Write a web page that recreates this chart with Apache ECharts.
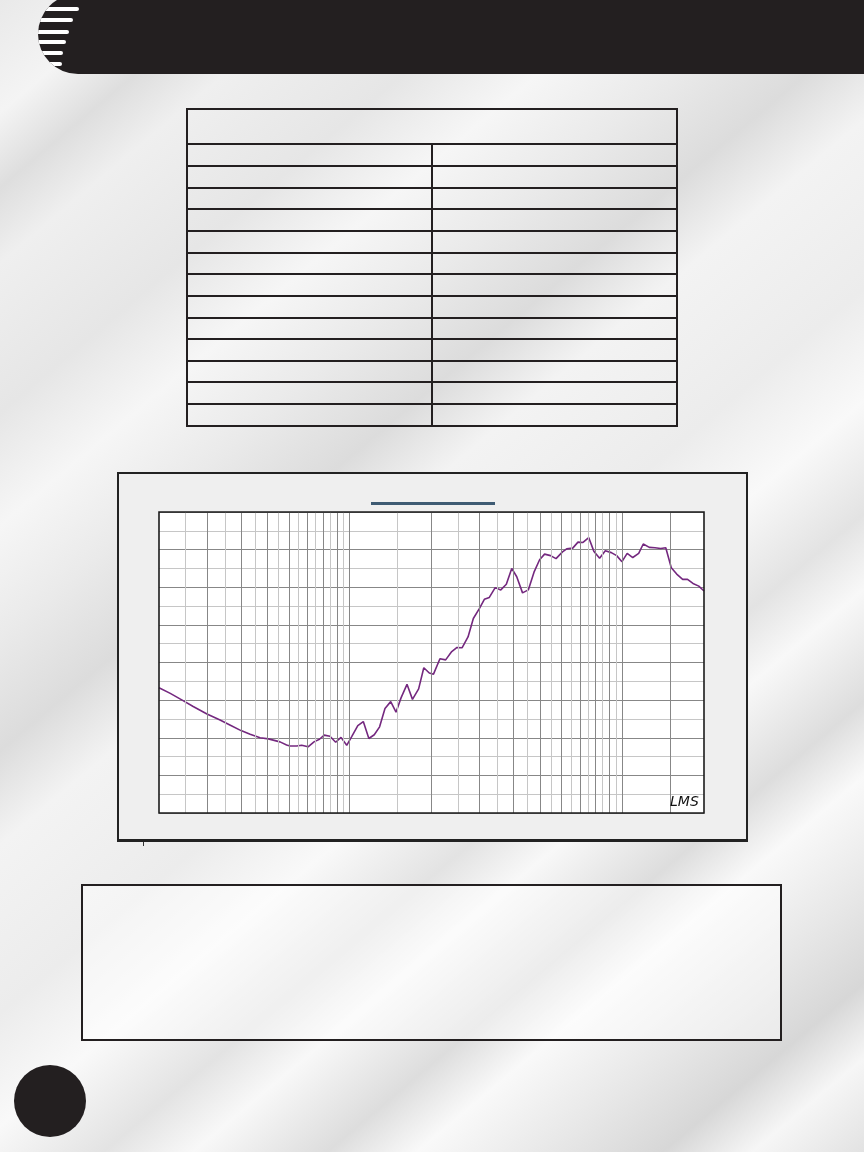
<!DOCTYPE html>
<html>
<head>
<meta charset="utf-8">
<script src="https://cdn.jsdelivr.net/npm/echarts@6/dist/echarts.min.js"></script>
<style>
  html, body { margin: 0; padding: 0; }
  body {
    width: 864px; height: 1152px; overflow: hidden; position: relative;
    background: linear-gradient(140deg,
      #e9e9e9 0%, #f4f4f4 6%, #dedede 10%, #efefef 14%, #e6e6e6 22%, #f6f6f6 28%,
      #eaeaea 34%, #dcdcdc 40%, #f3f3f3 45%, #ececec 54%, #f9f9f9 60%, #e3e3e3 66%,
      #f8f8f8 70%, #dddddd 76%, #f9f9f9 80%, #e7e7e7 86%, #d7d7d7 91%, #f6f6f6 95%, #e2e2e2 100%);
    font-family: "Noto Sans", sans-serif;
  }
  .abs { position: absolute; box-sizing: border-box; }
  #header { left: 38px; top: -6px; width: 900px; height: 80px; background: #231f20;
            border-radius: 40px 0 0 40px; overflow: hidden; }
  .stripe { position: absolute; height: 4px; background: #fff; border-radius: 0 2px 2px 0; }
  #table { left: 186px; top: 108px; width: 492px; height: 319px; border: 2px solid #231f20; }
  .hl { position: absolute; height: 2px; background: #231f20; }
  .vl { position: absolute; width: 2px; background: #231f20; }
  #chartbox { left: 117px; top: 472px; width: 631px; height: 370px; background: #efefef;
              border: 2.5px solid #222; border-bottom-width: 3px; }
  #tick { left: 143px; top: 842px; width: 1px; height: 4px; background: #333; }
  #titleline { left: 371px; top: 502px; width: 124px; height: 2.5px; background: #3e5b73; }
  #textbox { left: 81px; top: 884px; width: 701px; height: 157px; border: 2px solid #231f20;
             background: rgba(255,255,255,0.45); }
  #dot { left: 14px; top: 1065px; width: 72px; height: 72px; border-radius: 50%; background: #231f20; }
  #chart { position: absolute; left: 0; top: 0; width: 864px; height: 1152px; }
</style>
</head>
<body>
<div id="header" class="abs"></div>
<div id="table" class="abs"></div>
<div id="tablelines"></div>
<div id="chartbox" class="abs"></div>
<div id="tick" class="abs"></div>
<div id="titleline" class="abs"></div>
<div id="textbox" class="abs"></div>
<div id="dot" class="abs"></div>
<div id="chart"></div>
<script>
// ---- data (frequency response) ----
const freqs = [20, 22, 24.6, 26.7, 30, 33.5, 36.4, 40, 43.2, 47,
  50.4, 55.6, 58.8, 60.5, 64, 66.8, 70.5, 74.1, 77.6, 80.8,
  84.8, 89, 93.1, 97.7, 101.9, 107.3, 112.4, 117.8, 123.3, 129,
  135, 141.7, 148.2, 154.6, 162.6, 170.3, 179.4, 187.4, 196.3, 203.4,
  214.8, 225.4, 237.3, 248.2, 258.9, 272.3, 284.8, 299.6, 312.6, 326,
  342.6, 359.2, 376.4, 394, 411, 431.6, 453.2, 475.6, 498.6, 520,
  546.7, 572.8, 605, 626.8, 659.6, 689.6, 719.4, 755, 788.2, 827.8,
  868.6, 913.8, 956.2, 1000, 1045, 1095.6, 1151.8, 1197, 1260, 1322,
  1387, 1448, 1517, 1588, 1670, 1740, 1822, 1914, 2000];
const spl = [83.3, 81.8, 79.8, 78.3, 76.3, 74.7, 73.4, 71.9, 70.9, 70.0,
  69.7, 68.9, 68.1, 67.8, 67.8, 68.0, 67.6, 68.9, 69.6, 70.7,
  70.4, 68.8, 70.1, 68.0, 70.3, 73.2, 74.3, 69.8, 70.8, 72.9,
  77.8, 79.6, 76.8, 80.6, 84.2, 80.2, 83.0, 88.6, 87.2, 86.9,
  91.0, 90.7, 92.9, 94.0, 93.9, 96.8, 101.7, 104.3, 106.8, 107.3,
  109.9, 109.3, 110.8, 115.0, 112.8, 108.5, 109.3, 114.0, 117.3, 118.8,
  118.4, 117.6, 119.4, 120.2, 120.4, 122.0, 121.9, 123.2, 119.6, 117.7,
  119.7, 119.2, 118.4, 116.8, 119.0, 117.9, 119.0, 121.5, 120.6, 120.5,
  120.3, 120.5, 115.2, 113.5, 112.1, 112.1, 111.0, 110.3, 109.0];
// grid frequencies (log axis)
const majorGridFreqs = [30, 40, 50, 60, 70, 80, 90, 100, 200, 300, 400, 500, 600, 700, 800, 900, 1000, 1500];
const minorGridFreqs = [25, 35, 45, 55, 65, 75, 85, 95, 150, 250, 350, 450, 550, 650, 750, 850, 950];
// value axis
const yMin = 50, yMax = 130, yStep = 10;

// ---- decorations ----
(function () {
  const hd = document.getElementById('header');
  const ys = [9.3, 20, 31.7, 42.3, 53.3, 64];
  const ends = [79, 73, 69, 66, 63, 62];
  ys.forEach((y, i) => {
    const d = document.createElement('div');
    d.className = 'stripe';
    d.style.left = '0px';
    d.style.top = (y - 2 + 6) + 'px';
    d.style.width = (ends[i] - 38) + 'px';
    hd.appendChild(d);
  });
  const tl = document.getElementById('tablelines');
  for (let i = 0; i < 13; i++) {
    const y = 143.3 + i * 21.65;
    const d = document.createElement('div');
    d.className = 'hl';
    d.style.left = '186px'; d.style.width = '492px'; d.style.top = y + 'px';
    tl.appendChild(d);
  }
  const v = document.createElement('div');
  v.className = 'vl';
  v.style.left = '430.7px'; v.style.top = '144px'; v.style.height = '282px';
  tl.appendChild(v);
})();

// ---- chart ----
const chart = echarts.init(document.getElementById('chart'), null, { renderer: 'canvas' });
const darkGrid = '#878787', lightGrid = '#c6c6c6';
const gridMarks = majorGridFreqs.map(f => ({ xAxis: f, lineStyle: { color: darkGrid, width: 1, type: 'solid' } }))
  .concat(minorGridFreqs.map(f => ({ xAxis: f, lineStyle: { color: lightGrid, width: 1, type: 'solid' } })));
const pairs = freqs.map((f, i) => [f, spl[i]]);

chart.setOption({
  backgroundColor: 'transparent',
  animation: false,
  grid: { left: 159, top: 512, width: 545, height: 301, show: true, backgroundColor: '#ffffff', borderWidth: 0 },
  xAxis: {
    type: 'log', logBase: 10, min: 20, max: 2000,
    axisLine: { show: false }, axisTick: { show: false }, axisLabel: { show: false },
    splitLine: { show: false }
  },
  yAxis: {
    type: 'value', min: yMin, max: yMax, interval: yStep,
    axisLine: { show: false }, axisTick: { show: false }, axisLabel: { show: false },
    splitLine: { show: true, lineStyle: { color: darkGrid, width: 1 } },
    minorTick: { show: false, splitNumber: 2 },
    minorSplitLine: { show: true, lineStyle: { color: lightGrid, width: 1 } }
  },
  graphic: [
    { type: 'rect', z: 100, shape: { x: 159, y: 512, width: 545, height: 301 },
      style: { fill: 'none', stroke: '#1c1c1c', lineWidth: 1.6 } },
    { type: 'text', z: 100, x: 670, y: 795,
      style: { text: 'LMS', font: 'italic 14px "DejaVu Sans"', fill: '#111' } }
  ],
  series: [
    {
      type: 'line', z: 1, data: pairs, showSymbol: false, silent: true,
      lineStyle: { opacity: 0 },
      markLine: { silent: true, symbol: ['none', 'none'], label: { show: false }, animation: false, data: gridMarks }
    },
    {
      type: 'line', z: 3, data: pairs, showSymbol: false, silent: true,
      lineStyle: { color: '#74287f', width: 1.6 }
    }
  ]
});
</script>
</body>
</html>
